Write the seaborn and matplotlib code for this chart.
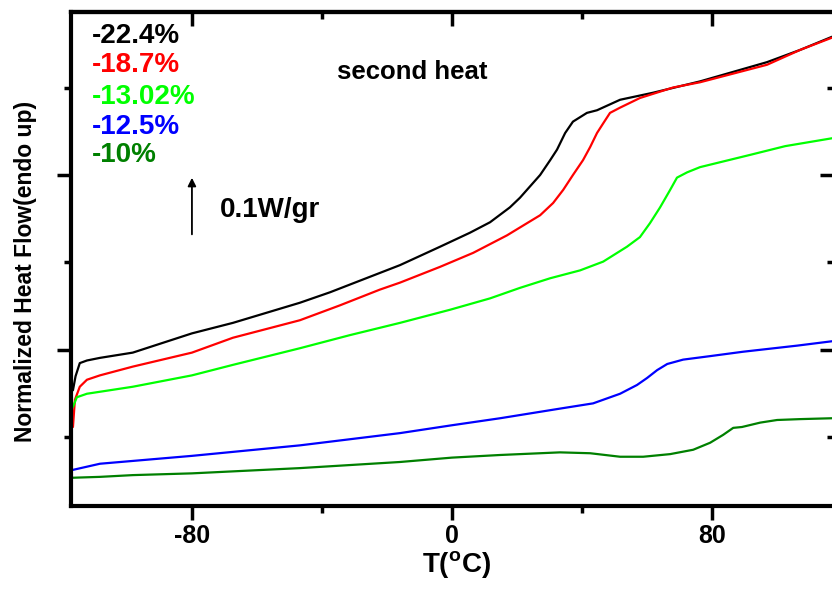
import numpy as np
import pandas as pd
import matplotlib
matplotlib.use("Agg")
import matplotlib.pyplot as plt
import seaborn as sns
from matplotlib.ticker import MultipleLocator

# sample labels and colours
samples = ["-22.4%", "-18.7%", "-13.02%", "-12.5%", "-10%"]
colors = ["#000000", "#ff0000", "#00ff00", "#0000ff", "#008000"]

# temperature (C) and heat flow (arb. units)
t_224 = [-116.6, -115.8, -114.5, -112.3, -108.3, -98.2, -80, -67.4, -46.8, -37.5, -16, -3.7,
         5.5, 11.7, 17.8, 20.9, 24.0, 27.1, 30.2, 32.3, 34.8, 37.2, 41.5, 44.6, 51.7, 61.8,
         76.3, 96.9, 107.1, 116.9]
q_224 = [-0.46, -0.30, -0.15, -0.12, -0.09, -0.03, 0.19, 0.31, 0.54, 0.66, 0.97, 1.18,
         1.34, 1.46, 1.63, 1.74, 1.87, 2.00, 2.17, 2.29, 2.48, 2.61, 2.71, 2.74, 2.86, 2.94,
         3.07, 3.29, 3.43, 3.58]

t_187 = [-116.6, -116.0, -114.5, -112.3, -108.3, -98.2, -80, -67.4, -46.8, -34.5, -22.2, -16,
         -3.7, 6.5, 16.9, 23.1, 27.1, 31.1, 34.2, 37.2, 40.3, 42.5, 44.6, 46.5, 48.6, 51.7,
         57.8, 68.0, 76.3, 96.9, 107.1, 116.9]
q_187 = [-0.88, -0.57, -0.42, -0.34, -0.29, -0.19, -0.03, 0.14, 0.34, 0.51, 0.69, 0.77,
         0.95, 1.11, 1.31, 1.45, 1.54, 1.68, 1.83, 2.00, 2.17, 2.32, 2.48, 2.59, 2.71, 2.77,
         2.88, 3.00, 3.06, 3.26, 3.43, 3.57]

t_1302 = [-116.6, -115.4, -112.3, -98.2, -80, -67.4, -46.8, -31.4, -16, -0.6, 11.7, 20.9,
          30.2, 39.4, 46.5, 53.8, 57.8, 60.9, 64, 67.1, 69.2, 72.3, 76.3, 91.7, 102.5, 116.9]
q_1302 = [-0.65, -0.54, -0.50, -0.42, -0.29, -0.17, 0.02, 0.17, 0.31, 0.46, 0.59, 0.71,
          0.82, 0.91, 1.01, 1.18, 1.29, 1.45, 1.63, 1.83, 1.97, 2.03, 2.09, 2.23, 2.33, 2.42]

t_125 = [-116.6, -108.3, -80, -46.8, -16, 0, 14.8, 33.2, 43.4, 51.7, 56.9, 60, 63.1, 66.2,
         71.1, 79.4, 89.5, 106.2, 116.9]
q_125 = [-1.37, -1.30, -1.21, -1.09, -0.95, -0.86, -0.78, -0.67, -0.61, -0.50, -0.40, -0.32,
         -0.23, -0.16, -0.11, -0.07, -0.02, 0.05, 0.10]

t_10 = [-116.6, -108.3, -98.2, -80, -46.8, -16, 0, 14.8, 33.2, 42.5, 51.7, 58.8, 67.1, 74.2,
        79.4, 83.4, 86.5, 89.2, 94.8, 100, 107.1, 116.9]
q_10 = [-1.46, -1.45, -1.43, -1.41, -1.35, -1.28, -1.23, -1.20, -1.17, -1.18, -1.22, -1.22,
        -1.19, -1.14, -1.06, -0.97, -0.89, -0.88, -0.83, -0.80, -0.79, -0.78]

curves = [(t_224, q_224), (t_187, q_187), (t_1302, q_1302), (t_125, q_125), (t_10, q_10)]
frames = []
for name, (t, q) in zip(samples, curves):
    frames.append(pd.DataFrame({"T": t, "Q": q, "sample": name}))
df = pd.concat(frames, ignore_index=True)

sns.set_style("ticks", rc={"axes.edgecolor": "black", "text.color": "black",
                           "axes.labelcolor": "black", "xtick.color": "black",
                           "ytick.color": "black"})
plt.rcParams["font.family"] = ["Liberation Sans", "DejaVu Sans"]
plt.rcParams["axes.unicode_minus"] = False
plt.rcParams["mathtext.fontset"] = "custom"
plt.rcParams["mathtext.rm"] = "Liberation Sans:bold"
plt.rcParams["mathtext.bf"] = "Liberation Sans:bold"

fig = plt.figure(figsize=(8.32, 5.89), dpi=100)
ax = fig.add_axes([71 / 832, 83 / 589, 763 / 832, 494 / 589])

sns.lineplot(data=df, x="T", y="Q", hue="sample", palette=colors, hue_order=samples,
             sort=False, estimator=None, linewidth=1.6, legend=False, ax=ax)

ax.set_xlim(-117.2, 117.5)
ax.set_ylim(-1.783, 3.863)

ax.xaxis.set_major_locator(MultipleLocator(80))
ax.xaxis.set_minor_locator(MultipleLocator(40))
ax.yaxis.set_major_locator(MultipleLocator(2))
ax.yaxis.set_minor_locator(MultipleLocator(1))
ax.set_yticklabels([])
ax.tick_params(axis="both", which="major", direction="out", length=10, width=2.5,
               labelsize=18, pad=3)
ax.tick_params(axis="both", which="minor", direction="out", length=5, width=2.5)
ax.tick_params(axis="y", which="both", left=True, right=False)
for lbl in ax.get_xticklabels():
    lbl.set_fontweight("bold")

# inward ticks on the top and right edges
top = ax.secondary_xaxis("top")
top.xaxis.set_major_locator(MultipleLocator(80))
top.xaxis.set_minor_locator(MultipleLocator(40))
top.tick_params(which="major", direction="in", length=10, width=2.5, labeltop=False)
top.tick_params(which="minor", direction="in", length=5, width=2.5)
right = ax.secondary_yaxis("right")
right.yaxis.set_major_locator(MultipleLocator(2))
right.yaxis.set_minor_locator(MultipleLocator(1))
right.tick_params(which="major", direction="in", length=10, width=2.5, labelright=False)
right.tick_params(which="minor", direction="in", length=5, width=2.5)

for sp in ax.spines.values():
    sp.set_linewidth(3)
top.spines["top"].set_linewidth(3)
right.spines["right"].set_linewidth(3)

ax.set_xlabel(r"T($^{\mathrm{o}}$C)", fontsize=20, fontweight="bold")
ax.xaxis.set_label_coords(0.505, -0.088)
ax.set_ylabel("Normalized Heat Flow(endo up)", fontsize=16.5, fontweight="bold")
ax.yaxis.set_label_coords(-0.045, 0.475)

label_y = [3.59, 3.26, 2.89, 2.55, 2.23]
for name, c, yy in zip(samples, colors, label_y):
    ax.text(-110.8, yy, name, color=c, fontsize=20, fontweight="bold",
            ha="left", va="center")

ax.text(-35.4, 3.18, "second heat", fontsize=18.5, fontweight="bold", ha="left", va="center")
ax.text(-71.4, 1.6, "0.1W/gr", fontsize=20, fontweight="bold", ha="left", va="center")
ax.annotate("", xy=(-80, 2.0), xytext=(-80, 1.29),
            arrowprops=dict(arrowstyle="-|>", color="black", lw=1.3, mutation_scale=12))

fig.savefig("out.png", dpi=100)
